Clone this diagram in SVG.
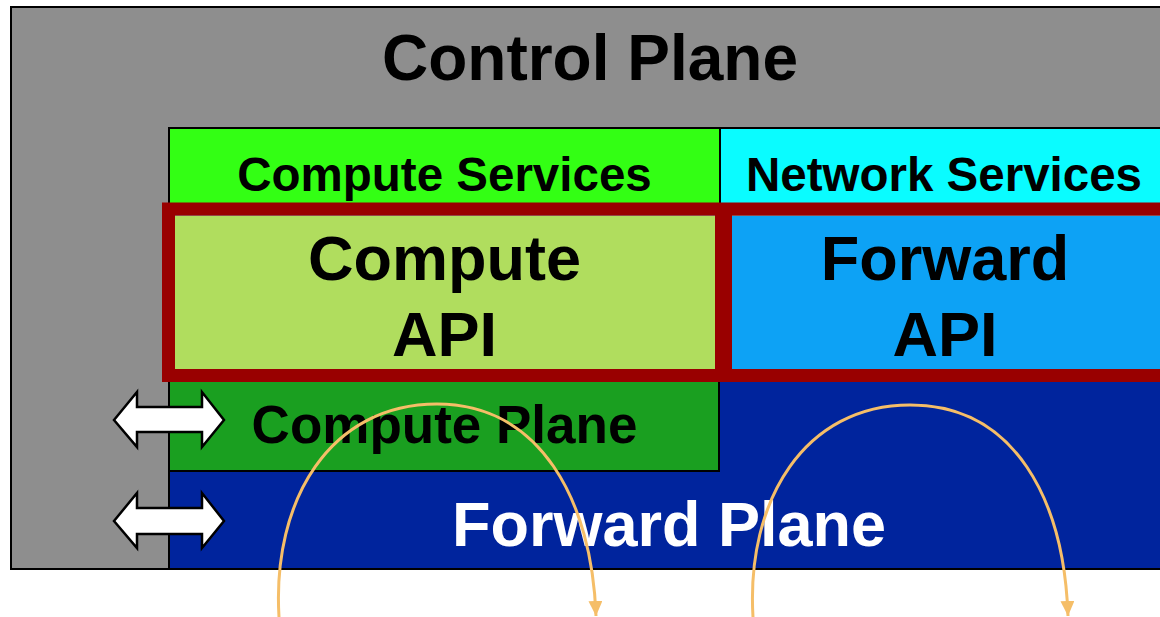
<svg xmlns="http://www.w3.org/2000/svg" width="1160" height="617" viewBox="0 0 1160 617">
<style>
text{font-family:"Liberation Sans",Arial,sans-serif;font-weight:bold;text-anchor:middle;fill:#000}
.w{fill:#fff}
.box{stroke:#000;stroke-width:2}
.dbl{fill:#fff;stroke:#000;stroke-width:2.5;stroke-linejoin:miter}
.arc{fill:none;stroke:#F5BE68;stroke-width:3}
</style>
<defs>
<marker id="ah" markerWidth="16" markerHeight="16" refX="15" refY="7" orient="auto" markerUnits="userSpaceOnUse" viewBox="0 0 16 16">
<path d="M0,0 L15,7 L0,14 Z" fill="#F5BE68"/>
</marker>
</defs>
<rect width="1160" height="617" fill="#fff"/>
<g id="control-plane">
<rect x="11" y="7" width="1160" height="562" fill="#8E8E8E" class="box"/>
<text x="590" y="80" font-size="64">Control Plane</text>
</g>
<g id="forward-plane">
<rect x="169" y="381" width="1000" height="188" fill="#00249D" class="box"/>
<text x="669" y="546" font-size="63" class="w">Forward Plane</text>
</g>
<g id="compute-plane">
<rect x="169" y="381" width="550" height="90" fill="#1A9F20" class="box"/>
<text x="444.5" y="443" font-size="53">Compute Plane</text>
</g>
<g id="compute-services">
<rect x="169" y="128" width="551" height="76" fill="#33FF14" class="box"/>
<text x="444.5" y="191" font-size="47.5">Compute Services</text>
</g>
<g id="network-services">
<rect x="720" y="128" width="450" height="76" fill="#0AFCFF" class="box"/>
<text x="944" y="191" font-size="47.5">Network Services</text>
</g>
<g id="compute-api">
<rect x="175" y="216" width="540" height="153" fill="#B0DD5E"/>
<text x="444.5" y="280" font-size="63">Compute</text>
<text x="444.5" y="356" font-size="63">API</text>
</g>
<g id="forward-api">
<rect x="732" y="216" width="440" height="153" fill="#0DA2F5"/>
<text x="945" y="280" font-size="63">Forward</text>
<text x="945" y="356" font-size="63">API</text>
</g>
<g id="api-frame">
<rect x="168.5" y="209" width="1010" height="166.5" fill="none" stroke="#990000" stroke-width="13"/>
<line x1="723.5" y1="209" x2="723.5" y2="375.5" stroke="#990000" stroke-width="17"/>
</g>
<g id="connectors">
<path class="dbl" d="M114,420 L137,392 L137,407 L202,407 L202,392 L224,420 L202,447 L202,432 L137,432 L137,447 Z"/>
<path class="dbl" d="M114,521 L137,493 L137,508 L202,508 L202,493 L224,521 L202,548 L202,534 L137,534 L137,548 Z"/>
<path class="arc" d="M279,617 C 272,500 330,404 437,404 C 540,404 592,500 596,616" marker-end="url(#ah)"/>
<path class="arc" d="M753,617 C 746,500 805,405 910,405 C 1015,405 1064,500 1068,616" marker-end="url(#ah)"/>
</g>
</svg>
